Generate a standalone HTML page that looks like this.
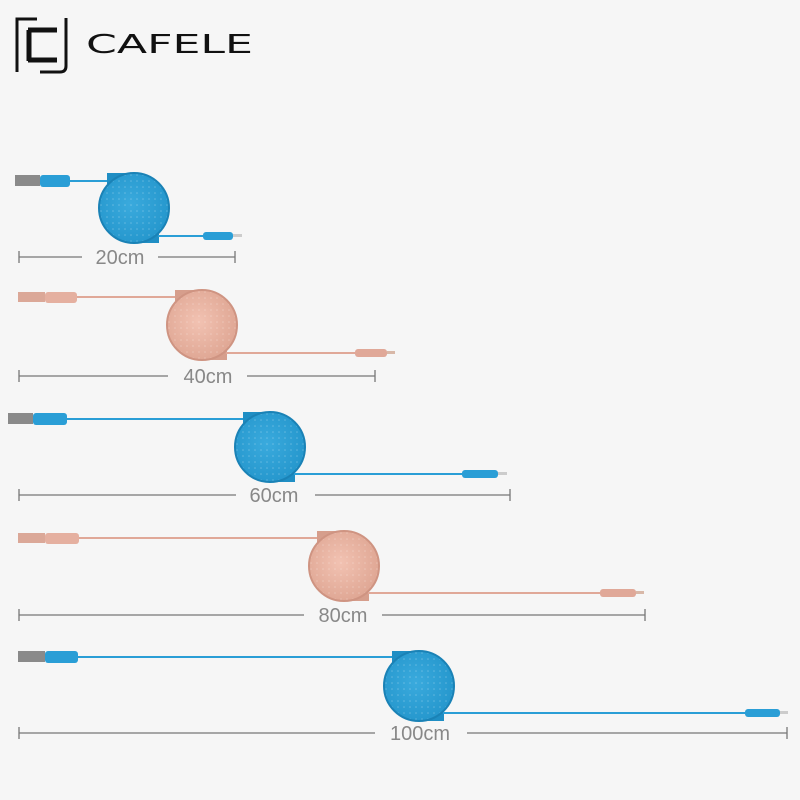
<!DOCTYPE html>
<html><head><meta charset="utf-8"><style>
html,body{margin:0;padding:0;background:#f6f6f6;}
svg{display:block}
text{font-family:"Liberation Sans",sans-serif;}
</style></head><body>
<svg width="800" height="800" viewBox="0 0 800 800" xmlns="http://www.w3.org/2000/svg">
<rect width="800" height="800" fill="#f6f6f6"/>
<defs>
<pattern id="dots" width="6" height="6" patternUnits="userSpaceOnUse"><circle cx="3" cy="3" r="0.8" fill="#fff" opacity="0.25"/></pattern>
<radialGradient id="gb" cx="0.45" cy="0.45" r="0.6"><stop offset="0" stop-color="#3aaadd"/><stop offset="1" stop-color="#2496cc"/></radialGradient>
<radialGradient id="gp" cx="0.45" cy="0.45" r="0.6"><stop offset="0" stop-color="#f2c2b2"/><stop offset="1" stop-color="#dea592"/></radialGradient>
<g id="hb">
<polygon points="-27,-35 5,-35 -27,-3" fill="#1f8ec4"/>
<polygon points="25,35 -5,35 25,3" fill="#1f8ec4"/>
<circle r="35" fill="url(#gb)" stroke="#1a82b6" stroke-width="2"/><circle r="34" fill="url(#dots)"/>
</g>
<g id="hp">
<polygon points="-27,-35 5,-35 -27,-3" fill="#d69e8c"/>
<polygon points="25,35 -5,35 25,3" fill="#d69e8c"/>
<circle r="35" fill="url(#gp)" stroke="#cf9482" stroke-width="2"/><circle r="34" fill="url(#dots)"/>
</g>
</defs>
<!-- logo -->
<g fill="none" stroke="#111" stroke-width="3">
<path d="M17 72 V19 H37"/><path d="M66 18 V66 Q66 72 60 72 H40"/>
</g>
<path d="M28 30 H57 M28 60 H57 M29 30 V61" stroke="#111" stroke-width="5" fill="none"/>
<text x="86" y="53" font-size="26" fill="#111" textLength="167" lengthAdjust="spacingAndGlyphs" style="font-family:'DejaVu Sans',sans-serif">CAFELE</text>

<g>
<rect x="15" y="175" width="25" height="11" fill="#8a8a8a"/>
<rect x="40" y="175" width="30" height="12" rx="3" fill="#2a9ed6"/>
<line x1="70" y1="181" x2="115" y2="181" stroke="#2a9ed6" stroke-width="2"/>
<use href="#hb" x="134" y="208"/>
<line x1="158" y1="236" x2="205" y2="236" stroke="#2a9ed6" stroke-width="2"/>
<rect x="203" y="232" width="30" height="8" rx="3" fill="#2a9ed6"/>
<rect x="233" y="234" width="9" height="3" fill="#ccc"/>
<path d="M19 251 V263 M19 257 H82 M158 257 H235 M235 251 V263" stroke="#777" stroke-width="1.3"/>
<text x="120" y="264" font-size="20" fill="#888" text-anchor="middle">20cm</text>
</g>
<g>
<rect x="18" y="292" width="27" height="10" fill="#dba898"/>
<rect x="45" y="292" width="32" height="11" rx="3" fill="#e5b0a0"/>
<line x1="77" y1="297" x2="180" y2="297" stroke="#e0a898" stroke-width="2"/>
<use href="#hp" x="202" y="325"/>
<line x1="226" y1="353" x2="357" y2="353" stroke="#e0a898" stroke-width="2"/>
<rect x="355" y="349" width="32" height="8" rx="3" fill="#e0a898"/>
<rect x="387" y="351" width="8" height="3" fill="#d8b8a8"/>
<path d="M19 370 V382 M19 376 H168 M247 376 H375 M375 370 V382" stroke="#777" stroke-width="1.3"/>
<text x="208" y="383" font-size="20" fill="#888" text-anchor="middle">40cm</text>
</g>
<g>
<rect x="8" y="413" width="25" height="11" fill="#8a8a8a"/>
<rect x="33" y="413" width="34" height="12" rx="3" fill="#2a9ed6"/>
<line x1="67" y1="419" x2="250" y2="419" stroke="#2a9ed6" stroke-width="2"/>
<use href="#hb" x="270" y="447"/>
<line x1="294" y1="474" x2="464" y2="474" stroke="#2a9ed6" stroke-width="2"/>
<rect x="462" y="470" width="36" height="8" rx="3" fill="#2a9ed6"/>
<rect x="498" y="472" width="9" height="3" fill="#ccc"/>
<path d="M19 489 V501 M19 495 H236 M315 495 H510 M510 489 V501" stroke="#777" stroke-width="1.3"/>
<text x="274" y="502" font-size="20" fill="#888" text-anchor="middle">60cm</text>
</g>
<g>
<rect x="18" y="533" width="27" height="10" fill="#dba898"/>
<rect x="45" y="533" width="34" height="11" rx="3" fill="#e5b0a0"/>
<line x1="79" y1="538" x2="322" y2="538" stroke="#e0a898" stroke-width="2"/>
<use href="#hp" x="344" y="566"/>
<line x1="368" y1="593" x2="602" y2="593" stroke="#e0a898" stroke-width="2"/>
<rect x="600" y="589" width="36" height="8" rx="3" fill="#e0a898"/>
<rect x="636" y="591" width="8" height="3" fill="#d8b8a8"/>
<path d="M19 609 V621 M19 615 H304 M382 615 H645 M645 609 V621" stroke="#777" stroke-width="1.3"/>
<text x="343" y="622" font-size="20" fill="#888" text-anchor="middle">80cm</text>
</g>
<g>
<rect x="18" y="651" width="27" height="11" fill="#8a8a8a"/>
<rect x="45" y="651" width="33" height="12" rx="3" fill="#2a9ed6"/>
<line x1="78" y1="657" x2="395" y2="657" stroke="#2a9ed6" stroke-width="2"/>
<use href="#hb" x="419" y="686"/>
<line x1="443" y1="713" x2="747" y2="713" stroke="#2a9ed6" stroke-width="2"/>
<rect x="745" y="709" width="35" height="8" rx="3" fill="#2a9ed6"/>
<rect x="780" y="711" width="8" height="3" fill="#ccc"/>
<path d="M19 727 V739 M19 733 H375 M467 733 H787 M787 727 V739" stroke="#777" stroke-width="1.3"/>
<text x="420" y="740" font-size="20" fill="#888" text-anchor="middle">100cm</text>
</g>
</svg>
</body></html>
